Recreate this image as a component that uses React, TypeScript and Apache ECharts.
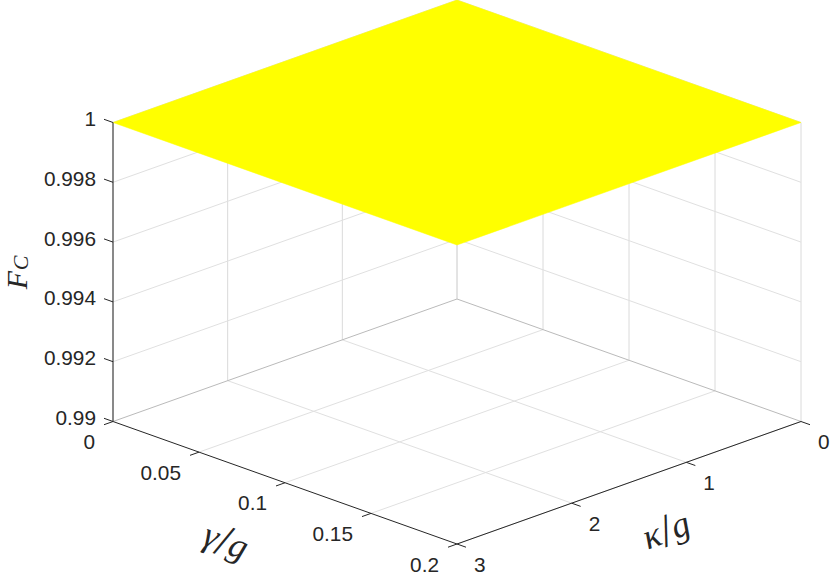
import React, { useEffect, useRef } from "react";
import * as echarts from "echarts";

const gammaTicks = [0, 0.05, 0.1, 0.15, 0.2];
const gammaLabels = ["0", "0.05", "0.1", "0.15", "0.2"];
const kappaTicks = [0, 1, 2, 3];
const kappaLabels = ["0", "1", "2", "3"];
const fcTicks = [0.99, 0.992, 0.994, 0.996, 0.998, 1];
const fcLabels = ["0.99", "0.992", "0.994", "0.996", "0.998", "1"];
const surfaceCorners = [
  [0, 0, 1],
  [0.2, 0, 1],
  [0.2, 3, 1],
  [0, 3, 1],
];

const W = 830;
const H = 575;
const GMAX = 0.2;
const KMAX = 3;
const FMIN = 0.99;
const FMAX = 1;

// Orthographic view of the 3-D box
const project = (g: number, k: number, f: number): number[] => [
  457 + (g / GMAX) * 344 - (k / KMAX) * 344,
  299 + (g / GMAX) * 122.5 + (k / KMAX) * 122.5 - ((f - FMIN) / (FMAX - FMIN)) * 299,
];

const TICK_G = (9 / 344) * GMAX;
const TICK_K = (9 / 344) * KMAX;

type Seg = { a: number[]; b: number[]; color: string; width: number };
const GRID = "#e0e0e0";
const GRID_V = "#dadada";
const EDGE = "#bababa";
const AXIS = "#262626";

const gridSegs: Seg[] = [];
const seg = (a: number[], b: number[], color: string, width = 1) =>
  ({ a, b, color, width });

gammaTicks.forEach((g) => {
  if (g > 0) {
    gridSegs.push(seg([g, 0, FMIN], [g, KMAX, FMIN], GRID));
    gridSegs.push(seg([g, 0, FMIN], [g, 0, FMAX], GRID_V));
  }
});
kappaTicks.forEach((k) => {
  if (k > 0 && k < KMAX) {
    gridSegs.push(seg([0, k, FMIN], [GMAX, k, FMIN], GRID));
    gridSegs.push(seg([0, k, FMIN], [0, k, FMAX], GRID_V));
  }
});
fcTicks.forEach((f) => {
  if (f > FMIN) {
    gridSegs.push(seg([0, KMAX, f], [0, 0, f], GRID));
    gridSegs.push(seg([0, 0, f], [GMAX, 0, f], GRID));
  }
});
gridSegs.push(seg([0, 0, FMIN], [0, KMAX, FMIN], EDGE));
gridSegs.push(seg([0, 0, FMIN], [GMAX, 0, FMIN], EDGE));
gridSegs.push(seg([0, 0, FMIN], [0, 0, FMAX], "#c8c8c8"));

const axisSegs: Seg[] = [
  seg([0, KMAX, FMIN], [GMAX, KMAX, FMIN], AXIS),
  seg([GMAX, 0, FMIN], [GMAX, KMAX, FMIN], AXIS),
  seg([0, KMAX, FMIN], [0, KMAX, FMAX], "#4a4a4a", 1.3),
];
gammaTicks.forEach((g) =>
  axisSegs.push(seg([g, KMAX, FMIN], [g, KMAX + TICK_K, FMIN], AXIS))
);
kappaTicks.forEach((k) =>
  axisSegs.push(seg([GMAX, k, FMIN], [GMAX + TICK_G, k, FMIN], AXIS))
);
fcTicks.forEach((f) =>
  axisSegs.push(seg([0, KMAX, f], [-TICK_G, KMAX, f], AXIS))
);

type Lab = { p: number[]; text: string; dx: number; dy: number; align: string };
const tickLabels: Lab[] = [
  ...gammaTicks.map((g, i) => ({
    p: [g, KMAX, FMIN],
    text: gammaLabels[i],
    dx: -18,
    dy: 20,
    align: "right",
  })),
  ...kappaTicks.map((k, i) => ({
    p: [GMAX, k, FMIN],
    text: kappaLabels[i],
    dx: 17,
    dy: 20,
    align: "left",
  })),
  ...fcTicks.map((f, i) => ({
    p: [0, KMAX, f],
    text: fcLabels[i],
    dx: -17,
    dy: -4,
    align: "right",
  })),
];

const MATH = '"Liberation Serif", serif';
const mathRich = {
  i: { font: `italic 36px ${MATH}`, fill: AXIS, verticalAlign: "middle" },
  n: { font: `46px ${MATH}`, fill: AXIS, verticalAlign: "middle" },
};
const axisTitles: any[] = [
  {
    at: [226, 541],
    rotation: -0.36,
    text: "{i|γ}{n|/}{i|g}",
    rich: mathRich,
  },
  {
    at: [666, 530],
    rotation: 0.36,
    text: "{i|κ}{n|/}{i|g}",
    rich: mathRich,
  },
  {
    at: [16, 280],
    rotation: Math.PI / 2,
    text: "F",
    font: `italic 30px ${MATH}`,
    lineHeight: 24,
  },
  {
    at: [20, 263],
    rotation: Math.PI / 2,
    text: "C",
    font: `italic 22px ${MATH}`,
    lineHeight: 18,
  },
];

export default function App() {
  const ref = useRef<HTMLDivElement>(null);

  useEffect(() => {
    const chart = echarts.init(ref.current!, undefined, { renderer: "svg" });

    const segRender = (segs: Seg[]) => (params: any, api: any) => {
      const s = segs[params.dataIndex];
      const a = api.coord(project(s.a[0], s.a[1], s.a[2]));
      const b = api.coord(project(s.b[0], s.b[1], s.b[2]));
      return {
        type: "line",
        shape: { x1: a[0], y1: a[1], x2: b[0], y2: b[1] },
        style: { stroke: s.color, lineWidth: s.width, fill: "none" },
      };
    };

    chart.setOption({
      animation: false,
      backgroundColor: "#ffffff",
      grid: { left: 0, right: 0, top: 0, bottom: 0 },
      xAxis: { type: "value", min: 0, max: W, show: false },
      yAxis: { type: "value", min: 0, max: H, inverse: true, show: false },
      series: [
        {
          type: "custom",
          coordinateSystem: "cartesian2d",
          clip: false,
          silent: true,
          z: 1,
          data: gridSegs.map((_, i) => [i]),
          renderItem: segRender(gridSegs),
        },
        {
          type: "custom",
          coordinateSystem: "cartesian2d",
          clip: false,
          silent: true,
          z: 2,
          data: [[0]],
          renderItem: (_p: any, api: any) => ({
            type: "polygon",
            shape: {
              points: surfaceCorners.map((c) => api.coord(project(c[0], c[1], c[2]))),
            },
            style: { fill: "#ffff00", stroke: "#ffff00", lineWidth: 0.5 },
          }),
        },
        {
          type: "custom",
          coordinateSystem: "cartesian2d",
          clip: false,
          silent: true,
          z: 3,
          data: axisSegs.map((_, i) => [i]),
          renderItem: segRender(axisSegs),
        },
        {
          type: "custom",
          coordinateSystem: "cartesian2d",
          clip: false,
          silent: true,
          z: 4,
          data: tickLabels.map((_, i) => [i]),
          renderItem: (params: any, api: any) => {
            const l = tickLabels[params.dataIndex];
            const c = api.coord(project(l.p[0], l.p[1], l.p[2]));
            return {
              type: "text",
              style: {
                text: l.text,
                x: c[0] + l.dx,
                y: c[1] + l.dy,
                align: l.align,
                verticalAlign: "middle",
                font: '20.8px "Liberation Sans", Arial, sans-serif',
                fill: AXIS,
              },
            };
          },
        },
        {
          type: "custom",
          coordinateSystem: "cartesian2d",
          clip: false,
          silent: true,
          z: 5,
          data: axisTitles.map((_, i) => [i]),
          renderItem: (params: any, api: any) => {
            const t = axisTitles[params.dataIndex];
            const c = api.coord(t.at);
            const style: any = {
              text: t.text,
              align: "center",
              verticalAlign: "middle",
              fill: AXIS,
            };
            if (t.rich) style.rich = t.rich;
            if (t.font) style.font = t.font;
            if (t.lineHeight) style.lineHeight = t.lineHeight;
            return { type: "text", x: c[0], y: c[1], rotation: t.rotation, style };
          },
        },
      ],
    });

    return () => chart.dispose();
  }, []);

  return (
    <div
      ref={ref}
      style={{ position: "absolute", left: 0, top: 0, width: W, height: H }}
    />
  );
}
